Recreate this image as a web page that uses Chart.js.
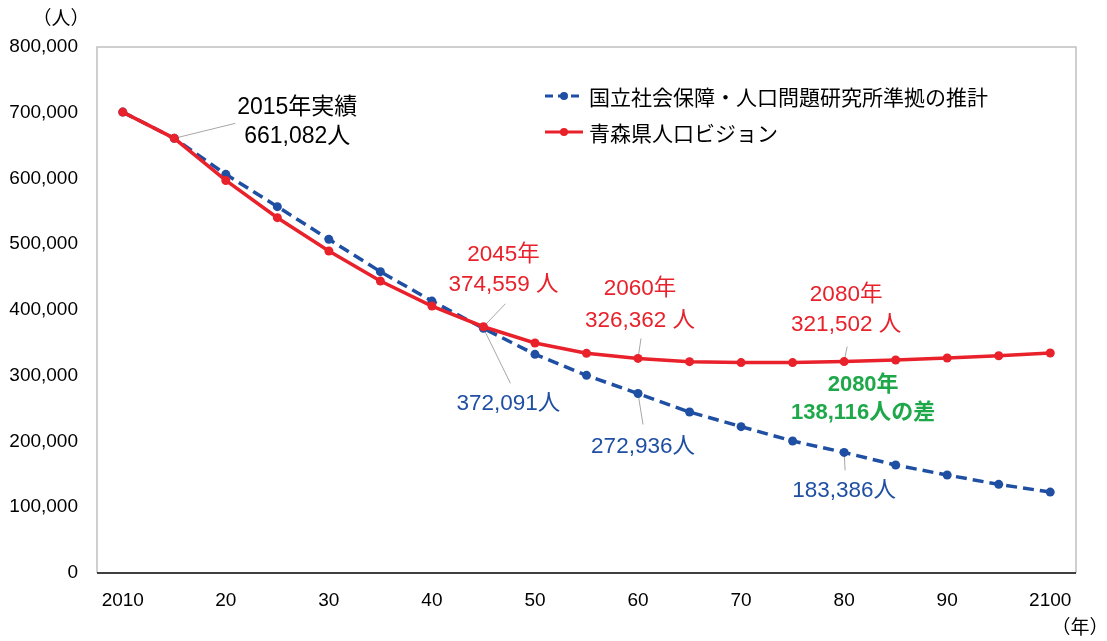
<!DOCTYPE html>
<html lang="ja">
<head>
<meta charset="utf-8">
<title>人口の将来展望</title>
<script src="https://cdn.jsdelivr.net/npm/chart.js@4.4.1/dist/chart.umd.min.js"></script>
<style>
  html, body { margin: 0; padding: 0; background: #ffffff; }
  #wrap { width: 1107px; height: 641px; position: relative; }
</style>
</head>
<body>
<div id="wrap"><canvas id="chart" width="1107" height="641"></canvas></div>
<script>
// 年次（5年刻み）
const years = [2010, 2015, 2020, 2025, 2030, 2035, 2040, 2045, 2050, 2055,
               2060, 2065, 2070, 2075, 2080, 2085, 2090, 2095, 2100];
// x軸に表示する目盛りラベル
const yearTickLabels = ['2010', '', '20', '', '30', '', '40', '', '50', '',
                        '60', '', '70', '', '80', '', '90', '', '2100'];
// 系列名
const seriesNames = ['国立社会保障・人口問題研究所準拠の推計', '青森県人口ビジョン'];
// 社人研準拠の推計（人）
const projectionValues = [701000, 661082, 606300, 557200, 507500, 458300, 413600, 372091, 332600, 300600,
                          272936, 244800, 222600, 200700, 183386, 164200, 149000, 134800, 123100];
// 人口ビジョン（人）
const visionValues = [701000, 661082, 597000, 540400, 489700, 444000, 406000, 374559, 349800, 334100,
                      326362, 321400, 320000, 320000, 321502, 323900, 327000, 330500, 334600];

const BLUE = '#1F4FA3';
const RED = '#E8212B';
const GREEN = '#1EA84A';
const LEADER = '#A6A6A6';
const JP_FONT = '"Liberation Sans", "Noto Sans CJK JP", sans-serif';

const fmt = v => v.toLocaleString('en-US');
const diff2080 = visionValues[14] - projectionValues[14];

// 吹き出し注記（ds: 0=推計, 1=ビジョン）
const notes = [
  { ds: 1, idx: 1, color: '#000000', bold: false, size: 23, gap: 29, dx: 123, dy: -31,
    lines: ['2015年実績', fmt(visionValues[1]) + '人'], leader: [61, -15] },
  { ds: 1, idx: 7, color: RED, bold: false, size: 22.5, gap: 30, dx: 20, dy: -72,
    lines: ['2045年', fmt(visionValues[7]) + ' 人'], leader: [22, -23] },
  { ds: 0, idx: 7, color: BLUE, bold: false, size: 22.5, gap: 30, dx: 25, dy: 75,
    lines: [fmt(projectionValues[7]) + '人'], leader: [27, 55] },
  { ds: 1, idx: 10, color: RED, bold: false, size: 22.5, gap: 32, dx: 2, dy: -70,
    lines: ['2060年', fmt(visionValues[10]) + ' 人'], leader: [3, -20] },
  { ds: 0, idx: 10, color: BLUE, bold: false, size: 22.5, gap: 30, dx: 5, dy: 53,
    lines: [fmt(projectionValues[10]) + '人'], leader: [5, 31] },
  { ds: 1, idx: 14, color: RED, bold: false, size: 22.5, gap: 30, dx: 2, dy: -67,
    lines: ['2080年', fmt(visionValues[14]) + ' 人'], leader: [3, -15] },
  { ds: 1, idx: 14, color: GREEN, bold: true, size: 22, gap: 28, dx: 19, dy: 23,
    lines: ['2080年', fmt(diff2080) + '人の差'], leader: null },
  { ds: 0, idx: 14, color: BLUE, bold: false, size: 22.5, gap: 30, dx: 0, dy: 38,
    lines: [fmt(projectionValues[14]) + '人'], leader: [1, 18] }
];

const framePlugin = {
  id: 'frame',
  beforeDatasetsDraw(chart) {
    const { ctx, chartArea: a } = chart;
    ctx.save();
    ctx.strokeStyle = '#C0C0C0';
    ctx.lineWidth = 1.5;
    ctx.beginPath();
    ctx.moveTo(a.left, a.bottom);
    ctx.lineTo(a.left, a.top);
    ctx.lineTo(a.right, a.top);
    ctx.lineTo(a.right, a.bottom);
    ctx.stroke();
    ctx.strokeStyle = '#404040';
    ctx.lineWidth = 2;
    ctx.beginPath();
    ctx.moveTo(a.left, a.bottom);
    ctx.lineTo(a.right, a.bottom);
    ctx.stroke();
    // 注記の引き出し線
    ctx.strokeStyle = LEADER;
    ctx.lineWidth = 1;
    notes.forEach(n => {
      if (!n.leader) return;
      const p = chart.getDatasetMeta(n.ds).data[n.idx];
      ctx.beginPath();
      ctx.moveTo(p.x, p.y);
      ctx.lineTo(p.x + n.leader[0], p.y + n.leader[1]);
      ctx.stroke();
    });
    ctx.restore();
  },
  afterDatasetsDraw(chart) {
    const { ctx } = chart;
    ctx.save();
    ctx.textAlign = 'center';
    ctx.textBaseline = 'middle';
    notes.forEach(n => {
      const p = chart.getDatasetMeta(n.ds).data[n.idx];
      ctx.fillStyle = n.color;
      ctx.font = (n.bold ? 'bold ' : '') + n.size + 'px ' + JP_FONT;
      n.lines.forEach((t, i) => {
        ctx.fillText(t, p.x + n.dx, p.y + n.dy + i * n.gap);
      });
    });

    // 凡例
    const items = [
      { name: seriesNames[0], color: BLUE, dash: [8, 5], y: 96 },
      { name: seriesNames[1], color: RED, dash: [], y: 132 }
    ];
    items.forEach(it => {
      ctx.strokeStyle = it.color;
      ctx.lineWidth = 3;
      ctx.setLineDash(it.dash);
      ctx.beginPath();
      ctx.moveTo(545, it.y);
      ctx.lineTo(583, it.y);
      ctx.stroke();
      ctx.setLineDash([]);
      ctx.fillStyle = it.color;
      ctx.beginPath();
      ctx.arc(564, it.y, 4, 0, Math.PI * 2);
      ctx.fill();
      ctx.fillStyle = '#000000';
      ctx.textAlign = 'left';
      ctx.font = '21px "Noto Sans CJK JP", sans-serif';
      ctx.fillText(it.name, 589, it.y + 1);
    });

    // 単位
    ctx.fillStyle = '#000000';
    ctx.font = '19px "Noto Sans CJK JP", sans-serif';
    ctx.textAlign = 'center';
    ctx.fillText('（人）', 61, 18);
    ctx.fillText('（年）', 1080, 627);
    ctx.restore();
  }
};

new Chart(document.getElementById('chart'), {
  type: 'line',
  data: {
    labels: years,
    datasets: [
      {
        label: seriesNames[0],
        data: projectionValues,
        borderColor: BLUE,
        backgroundColor: BLUE,
        borderWidth: 3.5,
        borderDash: [11, 6],
        pointRadius: 4.5,
        pointBorderWidth: 0,
        tension: 0,
        order: 2
      },
      {
        label: seriesNames[1],
        data: visionValues,
        borderColor: RED,
        backgroundColor: RED,
        borderWidth: 3.5,
        pointRadius: 4.5,
        pointBorderWidth: 0,
        tension: 0,
        order: 1
      }
    ]
  },
  options: {
    responsive: false,
    animation: false,
    devicePixelRatio: 1,
    layout: { padding: { left: 0, right: 31, top: 47, bottom: 0 } },
    plugins: {
      legend: { display: false },
      tooltip: { enabled: false }
    },
    scales: {
      x: {
        type: 'category',
        offset: true,
        grid: { display: false, drawTicks: false },
        border: { display: false },
        ticks: {
          autoSkip: false,
          maxRotation: 0,
          padding: 16,
          color: '#000000',
          font: { family: '"Liberation Sans", sans-serif', size: 19 },
          callback: (v, i) => yearTickLabels[i]
        },
        afterFit: s => { s.height = 68; }
      },
      y: {
        min: 0,
        max: 800000,
        grid: { display: false, drawTicks: false },
        border: { display: false },
        ticks: {
          stepSize: 100000,
          padding: 19,
          color: '#000000',
          font: { family: '"Liberation Sans", sans-serif', size: 19 },
          callback: v => fmt(v)
        },
        afterFit: s => { s.width = 97; }
      }
    }
  },
  plugins: [framePlugin]
});
</script>
</body>
</html>
